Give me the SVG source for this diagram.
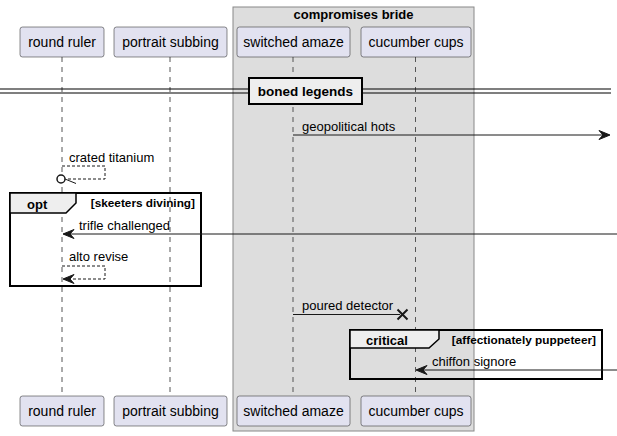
<svg xmlns="http://www.w3.org/2000/svg" width="617" height="436" viewBox="0 0 617 436">
<style>
text{font-family:"Liberation Sans",Arial,sans-serif;fill:#000}
.pbox{fill:#E2E2F0;stroke:#181818;stroke-width:0.5}
.pl{font-size:14px;text-anchor:middle}
.life{stroke:#555;stroke-width:1;stroke-dasharray:5,5;fill:none}
.msg{stroke:#181818;stroke-width:1;fill:none}
.dash{stroke:#181818;stroke-width:1;fill:none;stroke-dasharray:3,2}
.head{fill:#181818;stroke:#181818;stroke-width:1}
.ml{font-size:13px}
.frame{fill:none;stroke:#000;stroke-width:2}
.tab{fill:#EEEEEE;stroke:#000;stroke-width:1.5}
.bold{font-weight:bold;font-size:13px}
.cond{font-weight:bold;font-size:11.8px;text-anchor:end}
</style>
<g id="box-compromises-bride">
<rect x="233" y="7" width="241" height="424" fill="#DDDDDD" stroke="#888" stroke-width="1"/>
<text class="bold" x="353.5" y="19" text-anchor="middle">compromises bride</text>
</g>
<g id="lifelines">
<line class="life" x1="62" y1="57" x2="62" y2="396"/>
<line class="life" x1="170" y1="57" x2="170" y2="396"/>
<line class="life" x1="293" y1="57" x2="293" y2="396"/>
<line class="life" x1="415.5" y1="57" x2="415.5" y2="396"/>
</g>
<g id="divider">
<line x1="0" y1="89" x2="611" y2="89" stroke="#000" stroke-width="1.2"/>
<line x1="0" y1="93" x2="611" y2="93" stroke="#000" stroke-width="1.2"/>
<rect x="249" y="78" width="113" height="26" fill="#EEEEEE" stroke="#000" stroke-width="2"/>
<text class="bold" x="305.5" y="96" text-anchor="middle" style="font-size:13.5px">boned legends</text>
</g>
<g id="frame-opt">
<rect class="frame" x="10" y="193" width="191" height="93"/>
<path class="tab" d="M10,193 L76,193 L76,203 L66,213 L10,213 Z"/>
<text class="bold" x="27" y="209">opt</text>
<text class="cond" x="195" y="207">[skeeters divining]</text>
</g>
<g id="frame-critical">
<rect class="frame" x="350" y="330" width="252" height="49"/>
<path class="tab" d="M350,330 L439,330 L439,339 L429,348 L350,348 Z"/>
<text class="bold" x="366" y="345">critical</text>
<text class="cond" x="596" y="344">[affectionately puppeteer]</text>
</g>
<g id="connectors">
<line class="msg" x1="293" y1="135" x2="609" y2="135"/>
<polygon class="head" points="610,135 599,130.5 603,135 599,139.5"/>
<text class="ml" x="302" y="131">geopolitical hots</text>

<path class="dash" d="M62,166 L105,166 L105,179 L66,179"/>
<circle cx="61" cy="179" r="4" fill="#fff" stroke="#181818" stroke-width="1.5"/>
<line x1="65" y1="179" x2="76" y2="183.5" stroke="#181818" stroke-width="1"/>
<text class="ml" x="69" y="162">crated titanium</text>

<line class="msg" x1="617" y1="234" x2="64" y2="234"/>
<polygon class="head" points="63,234 74,229.5 70,234 74,238.5"/>
<text class="ml" x="79" y="230">trifle challenged</text>

<path class="dash" d="M62,266 L105,266 L105,279 L64,279"/>
<polygon class="head" points="63,279 74,274.5 70,279 74,283.5"/>
<text class="ml" x="69" y="261">alto revise</text>

<line class="msg" x1="293" y1="314.5" x2="400" y2="314.5"/>
<path d="M397.5,309.5 L407.5,319.5 M407.5,309.5 L397.5,319.5" stroke="#181818" stroke-width="2" fill="none"/>
<text class="ml" x="302" y="310">poured detector</text>

<line class="msg" x1="617" y1="370" x2="417" y2="370"/>
<polygon class="head" points="416,370 427,365.5 423,370 427,374.5"/>
<text class="ml" x="432" y="366">chiffon signore</text>
</g>
<g id="p-round-ruler">
<rect class="pbox" x="20" y="27" width="84" height="30" rx="2.5"/>
<text class="pl" x="62" y="47">round ruler</text>
<rect class="pbox" x="20" y="396" width="84" height="30" rx="2.5"/>
<text class="pl" x="62" y="416">round ruler</text>
</g>
<g id="p-portrait-subbing">
<rect class="pbox" x="114" y="27" width="113" height="30" rx="2.5"/>
<text class="pl" x="170.5" y="47">portrait subbing</text>
<rect class="pbox" x="114" y="396" width="113" height="30" rx="2.5"/>
<text class="pl" x="170.5" y="416">portrait subbing</text>
</g>
<g id="p-switched-amaze">
<rect class="pbox" x="237" y="27" width="113" height="30" rx="2.5"/>
<text class="pl" x="293.5" y="47">switched amaze</text>
<rect class="pbox" x="237" y="396" width="113" height="30" rx="2.5"/>
<text class="pl" x="293.5" y="416">switched amaze</text>
</g>
<g id="p-cucumber-cups">
<rect class="pbox" x="361" y="27" width="110" height="30" rx="2.5"/>
<text class="pl" x="416" y="47">cucumber cups</text>
<rect class="pbox" x="361" y="396" width="110" height="30" rx="2.5"/>
<text class="pl" x="416" y="416">cucumber cups</text>
</g>
</svg>
